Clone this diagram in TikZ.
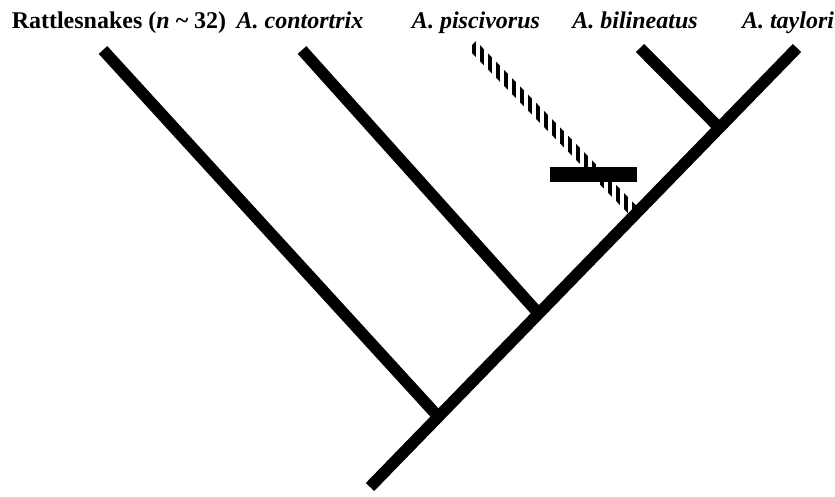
\documentclass[tikz,border=0pt]{standalone}
\usepackage{fontspec}
\setmainfont{Liberation Serif}
\usetikzlibrary{calc,positioning}
\tikzset{
  branch/.style={line width=5.8pt,line cap=butt,black},
  taxon/.style={font=\fontsize{12}{14}\selectfont\bfseries\itshape,anchor=base,inner sep=0pt},
  stripe/.style={line width=2pt,black},
  lossbar/.style={fill=black,draw=none,minimum width=43.5pt,minimum height=7.5pt,inner sep=0pt},
}

\begin{document}
\begin{tikzpicture}[x=0.5pt,y=-0.5pt]
  \useasboundingbox (0,0) rectangle (835,497);

  % Root and tips
  \coordinate (root) at (370,487);
  \coordinate (tayl) at (797,48);
  \coordinate (rattip) at (103,50);
  \coordinate (contip) at (302,50);
  \coordinate (pistip) at (472,45);
  \coordinate (biltip) at (640,48);

  % Junctions on the trunk
  \coordinate (ratj) at ($(root)!0.160!(tayl)$);
  \coordinate (conj) at ($(root)!0.395!(tayl)$);
  \coordinate (pisj) at ($(root)!0.623!(tayl)$);
  \coordinate (bilj) at ($(root)!0.818!(tayl)$);

  % Labels
  \node[taxon,font=\fontsize{12}{14}\selectfont\bfseries] (rat) at (119,29) {Rattlesnakes (\textit{n} \textasciitilde{} 32)};
  \node[taxon] (con) at (300,29) {A. contortrix};
  \node[taxon] (pis) at (476,29) {A. piscivorus};
  \node[taxon] (bil) at (635,29) {A. bilineatus};
  \node[taxon] (tay) at (788,29) {A. taylori};

  % Hatched branch
  \begin{scope}
    \clip ($(pistip)!2.8pt!90:(pisj)$) -- ($(pistip)!2.8pt!-90:(pisj)$)
       -- ($(pisj)!2.8pt!90:(pistip)$) -- ($(pisj)!2.8pt!-90:(pistip)$) -- cycle;
    \foreach \x in {466,474,...,650}
      \draw[stripe] (\x,20) -- (\x,240);
  \end{scope}

  % Draw tree
  \draw[branch] (root) -- (tayl);
  \draw[branch] (ratj) -- (rattip);
  \draw[branch] (conj) -- (contip);
  \draw[branch] (bilj) -- (biltip);

  % Bar across the hatched branch
  \node[lossbar] (loss) at (593.5,174.5) {};
\end{tikzpicture}
\end{document}
